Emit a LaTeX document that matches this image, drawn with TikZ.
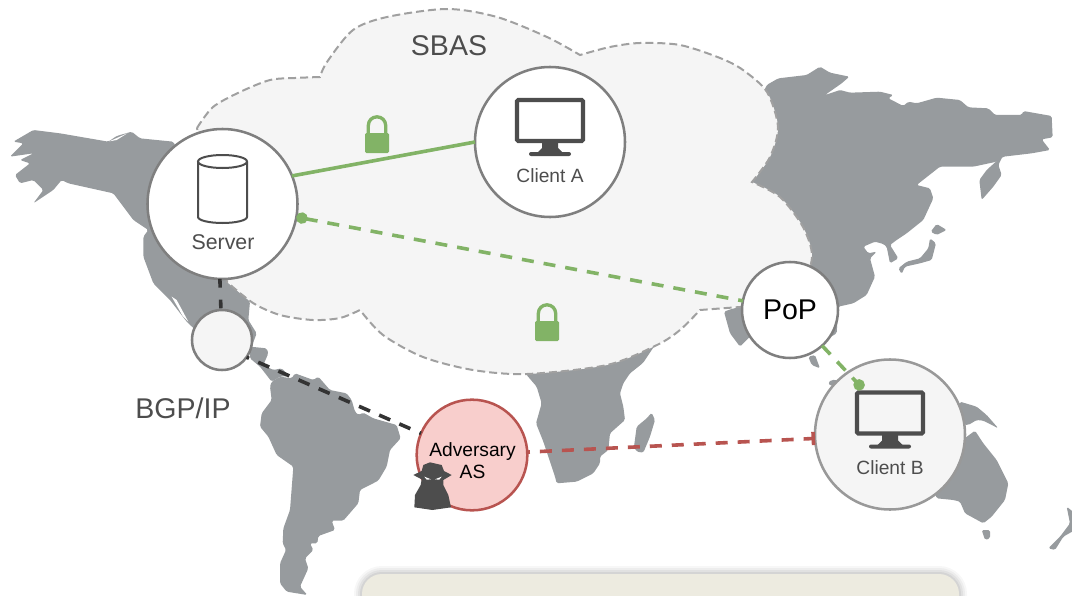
\documentclass[tikz,border=0pt]{standalone}
\usepackage{fontspec}
\setmainfont{Liberation Sans}
\usetikzlibrary{%
  arrows.meta,%
  positioning
}
\definecolor{landgray}{HTML}{979B9E}
\definecolor{cloudfill}{HTML}{F5F5F5}
\definecolor{cloudline}{HTML}{A0A0A0}
\definecolor{ringgray}{HTML}{7F7F7F}
\definecolor{inkgray}{HTML}{4D4D4D}
\definecolor{lockgreen}{HTML}{82B366}
\definecolor{advred}{HTML}{B85450}
\definecolor{advfill}{HTML}{F8CECC}
\definecolor{panelfill}{HTML}{EDEBE0}

\tikzset{
  padlock/.pic={
    \fill[lockgreen,rounded corners=1pt] (-12,0) rectangle (12,20);
    \draw[lockgreen,line width=2.5pt] (-8.7,2) -- (-8.7,-7.5)
      arc[start angle=180,end angle=360,radius=8.7] -- (8.7,2);
  },
  monitor/.pic={
    \draw[inkgray,line width=3.2pt,rounded corners=1pt] (-33,-42) rectangle (33,-1);
    \fill[inkgray] (-8,0) -- (8,0) -- (8,6) -- (13,11) -- (-13,11) -- (-8,6) -- cycle;
    \fill[inkgray,rounded corners=1.5pt] (-21,10) rectangle (21,14);
  }
}

\begin{document}
\begin{tikzpicture}[
    x=0.75pt,y=-0.75pt,
    land/.style={fill=landgray,rounded corners=1.2pt},
    sbas/.style={fill=cloudfill,draw=cloudline,line width=1.5pt,
        dash pattern=on 6pt off 3pt},
    station/.style={circle,draw=ringgray,fill=white,line width=1.9pt,
        inner sep=0pt,outer sep=0pt,minimum size=112.5pt},
    caption/.style={inner sep=0pt,text=inkgray,font=\fontsize{14.4}{16.5}\selectfont},
    bigtext/.style={inner sep=0pt,font=\fontsize{21.4}{24}\selectfont},
    secure/.style={lockgreen,line width=2.7pt},
    tunnel/.style={secure,dash pattern=on 9pt off 7.5pt},
    plainlink/.style={black!80,line width=2.7pt,dash pattern=on 9pt off 7.5pt},
    hijack/.style={advred,line width=2.7pt,dash pattern=on 9pt off 7.5pt},
    dottip/.tip={Circle[length=8.5pt,width=8.5pt]}
  ]

    \clip (0,0) rectangle (1072,596);

    \begin{scope}[shift={(0,100)},scale=1/3]
        \fill[land] (100,90) -- (180,100) -- (325,125) -- (350,108) -- (395,95)
            -- (420,115) -- (520,125) -- (600,300) -- (700,560) -- (750,605)
            -- (745,660) -- (770,700) -- (755,740) -- (700,760) -- (660,760)
            -- (560,665) -- (510,600) -- (460,550) -- (430,470) -- (430,410)
            -- (445,390) -- (400,360) -- (340,280) -- (205,250) -- (185,240)
            -- (160,270) -- (100,310) -- (130,270) -- (100,240) -- (60,250)
            -- (45,225) -- (90,190) -- (60,180) -- (100,160) -- (30,170)
            -- (70,130) -- (40,125) -- cycle;
        \fill[white] (515,590) -- (530,600) -- (565,665) -- (548,648) -- cycle;
        \fill[white] (328,124) -- (382,100) -- (350,120) -- cycle;
    \end{scope}

    \begin{scope}[shift={(230,350)},scale=1/3]
        \fill[land] (60,-10) -- (110,-5) -- (115,10) -- (100,45) -- (130,60)
            -- (155,55) -- (178,78) -- (150,80) -- (125,95) -- (90,50) -- (60,25)
            -- cycle;
        \fill[land] (125,95) -- (150,80) -- (185,85) -- (195,70) -- (250,90)
            -- (265,80) -- (300,120) -- (350,130) -- (365,150) -- (375,185)
            -- (385,195) -- (400,188) -- (430,205) -- (500,225) -- (512,265)
            -- (480,300) -- (470,350) -- (445,392) -- (390,420) -- (385,460)
            -- (340,512) -- (305,512) -- (315,540) -- (265,558) -- (262,580)
            -- (240,580) -- (250,600) -- (225,625) -- (235,655) -- (210,710)
            -- (232,735) -- (170,725) -- (150,700) -- (150,640) -- (168,600)
            -- (158,580) -- (160,535) -- (180,480) -- (190,350) -- (140,315)
            -- (115,260) -- (90,230) -- (95,190) -- (125,150) -- (120,110) -- cycle;
    \end{scope}

    \begin{scope}[shift={(380,370)},scale=1/3]
        \fill[land] (435,0) -- (825,-75) -- (789,-21) -- (750,10) -- (730,40)
            -- (720,70) -- (730,110) -- (735,150) -- (690,190) -- (685,240)
            -- (660,260) -- (660,280) -- (640,310) -- (590,335) -- (530,340)
            -- (525,320) -- (490,215) -- (468,160) -- (485,100) -- (470,50)
            -- (440,15) -- cycle;
        \fill[land] (815,128) -- (825,150) -- (810,200) -- (790,248) -- (770,245)
            -- (762,230) -- (770,170) -- (800,145) -- cycle;
    \end{scope}

    \begin{scope}[shift={(720,50)},scale=1/3]
        \fill[land] (140,105) -- (175,85) -- (260,75) -- (300,50) -- (330,68)
            -- (388,80) -- (365,100) -- (315,135) -- (360,120) -- (390,128)
            -- (480,125) -- (520,135) -- (505,145) -- (550,168) -- (565,155)
            -- (590,160) -- (650,143) -- (720,150) -- (745,172) -- (805,175)
            -- (825,195) -- (905,195) -- (910,183) -- (995,198) -- (998,262)
            -- (965,268) -- (990,300) -- (935,310) -- (850,320) -- (830,335)
            -- (760,350) -- (660,350) -- (590,405) -- (630,415) -- (640,445)
            -- (610,510) -- (560,550) -- (530,570) -- (510,585) -- (535,625)
            -- (510,640) -- (500,590) -- (490,582) -- (465,575) -- (430,590)
            -- (445,610) -- (470,605) -- (450,625) -- (465,680) -- (440,735)
            -- (400,760) -- (355,770) -- (350,850) -- (300,880) -- (200,800)
            -- (100,600) -- (60,400) -- (100,200) -- cycle;
        \fill[land] (850,315) -- (835,345) -- (845,375) -- (820,410) -- (785,450)
            -- (778,390) -- (800,360) -- cycle;
        \fill[land] (650,522) -- (680,540) -- (650,555) -- (632,545) -- cycle;
        \fill[land] (630,565) -- (648,580) -- (635,630) -- (600,640) -- (555,650)
            -- (545,672) -- (535,655) -- (560,635) -- (600,625) -- (625,595) -- cycle;
        \fill[land] (12,785) -- (40,775) -- (100,770) -- (100,850) -- (60,890)
            -- (30,850) -- cycle;
    \end{scope}

    \begin{scope}[shift={(720,300)},scale=1/3]
        \fill[land] (265,170) -- (285,165) -- (300,205) -- (275,195) -- cycle;
        \fill[land] (325,245) -- (345,238) -- (360,250) -- (330,258) -- cycle;
        \fill[land] (720,305) -- (770,320) -- (800,345) -- (835,385) -- (790,362)
            -- (770,360) -- (745,375) -- (700,370) -- cycle;
        \fill[land] (765,392) -- (790,430) -- (830,480) -- (865,550) -- (855,600)
            -- (815,650) -- (790,670) -- (735,640) -- (720,605) -- (700,600)
            -- (650,595) -- (620,500) -- (700,440) -- cycle;
        \fill[land] (785,690) -- (810,690) -- (810,715) -- (795,720) -- cycle;
        \fill[land] (1040,620) -- (1065,640) -- (1065,690) -- (1030,710)
            -- (1005,750) -- (985,745) -- (1020,710) -- (1050,670) -- cycle;
    \end{scope}

    \foreach \blur/\fade in {12pt/.03,9pt/.04,6pt/.05,3pt/.06}
        \draw[black,opacity=\fade,line width=\blur,rounded corners=15pt]
            (362,574) rectangle (959,640);
    \fill[panelfill,rounded corners=15pt] (362,574) rectangle (959,640);

    \draw[sbas]
        plot[smooth] coordinates {(197,128) (213,107) (240,92) (270,80) (295,78) (320,77)}
        -- plot[smooth] coordinates {(320,77) (327,62) (353,30) (387,17) (447,9) (497,17) (547,37) (580,55)}
        -- plot[smooth] coordinates {(580,55) (610,47) (640,43) (680,45) (720,58) (743,70) (767,92) (778,127) (770,157) (752,182)}
        -- plot[smooth] coordinates {(752,182) (780,197) (803,227) (812,257) (800,290) (770,305) (740,307) (700,310)}
        -- plot[smooth] coordinates {(700,310) (680,330) (657,345) (607,365) (527,374) (473,370) (423,357) (383,335) (360,310)}
        -- plot[smooth] coordinates {(360,310) (340,318) (313,320) (280,315) (253,303) (227,282)}
        -- cycle;

    \node[bigtext,text=inkgray] (sbaslabel) at (449,46) {SBAS};
    \node[bigtext,text=inkgray] (bgplabel) at (183,408) {BGP/IP};

    \node[station] (server) at (222.5,204) {};
    \node[station] (clientA) at (550,142) {};
    \node[station,minimum size=72pt] (pop) at (790,310) {};
    \node[station,fill=cloudfill,minimum size=45pt] (relay) at (222,340) {};
    \node[station,draw=advred,fill=advfill,minimum size=83pt] (adversary) at (472,455) {};
    \node[station,draw=ringgray!80,fill=cloudfill] (clientB) at (890,434.5) {};

    \node[bigtext] (poplabel) at (pop) {PoP};
    \node[caption,font=\fontsize{16}{18}\selectfont] (serverlabel) at (223,242) {Server};
    \node[caption] (clientAlabel) at (550,176) {Client A};
    \node[caption] (clientBlabel) at (890,468) {Client B};
    \node[caption,text=black,align=center] (adversarylabel) at (472.5,461) {Adversary\\AS};

    \draw[inkgray,line width=1.5pt] (198,161.5) -- (198,217)
        arc[start angle=180,end angle=0,x radius=24.5,y radius=6] -- (247,161.5);
    \draw[inkgray,line width=1.5pt] (222.5,161.5) ellipse[x radius=24.5,y radius=6.5];

    \pic (monitorA) at (550,142) {monitor};
    \pic (monitorB) at (890,434.5) {monitor};
    \pic (lockA) at (377,133) {padlock};
    \pic (lockB) at (547,321) {padlock};

    \begin{scope}[shift={(380,370)},scale=1/3]
        \fill[inkgray] (130,285) -- (150,277) -- (185,285) -- (192,303)
            -- (215,315) -- (190,330) -- (190,345) -- (205,375) -- (213,412)
            -- (157,420) -- (103,412) -- (105,375) -- (122,345) -- (125,328)
            -- (100,315) -- (125,303) -- cycle;
        \fill[white] (133,320) -- (153,328) -- (140,329) -- cycle;
        \fill[white] (185,320) -- (165,328) -- (178,329) -- cycle;
    \end{scope}

    \coordinate (dockB) at (863,389);

    \draw[secure] (server.22) -- (clientA.west);
    \draw[tunnel,{dottip}-] (server.-10) -- (pop.169);
    \draw[tunnel,-{dottip}] (pop.-48) -- (dockB);
    \draw[plainlink,dash pattern=on 6.5pt off 9pt] (server.-92) -- (relay.92);
    \draw[plainlink,dash phase=7pt] (relay.-35) -- (adversary.157);
    \draw[hijack,dash phase=7pt,-{Bar[width=10pt,length=2.25pt]}] (adversary.3) -- (clientB.183);
\end{tikzpicture}
\end{document}
